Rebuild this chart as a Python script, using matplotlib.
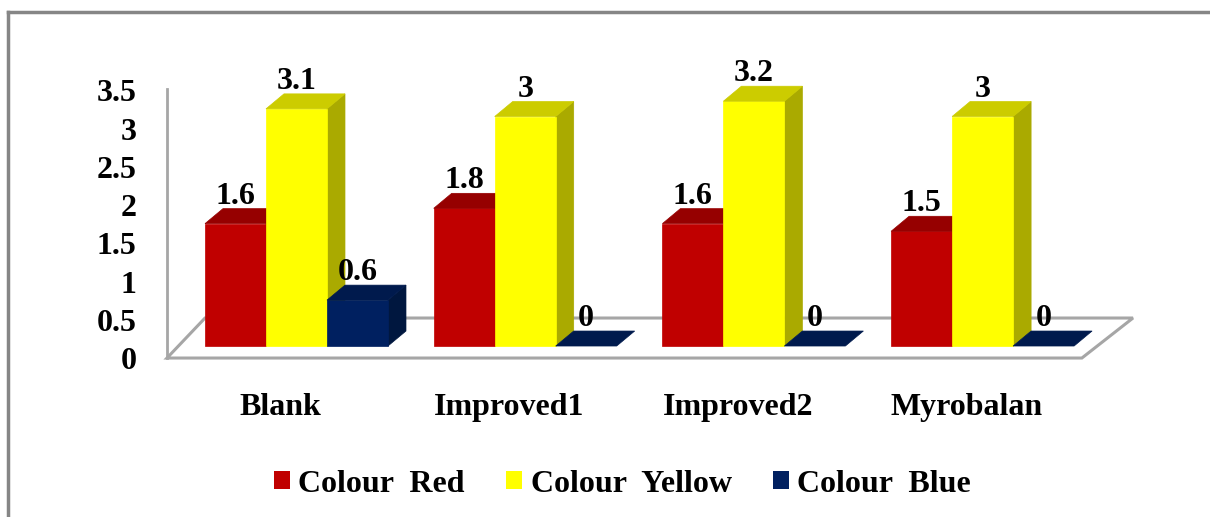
import matplotlib
matplotlib.use("Agg")
import matplotlib.pyplot as plt
from matplotlib.patches import Polygon, Patch
from matplotlib.lines import Line2D

# ---- data ----
categories = ["Blank", "Improved1", "Improved2", "Myrobalan"]
series_names = ["Colour  Red", "Colour  Yellow", "Colour  Blue"]
colour_red = [1.6, 1.8, 1.6, 1.5]
colour_yellow = [3.1, 3.0, 3.2, 3.0]
colour_blue = [0.6, 0.0, 0.0, 0.0]
yticks = [0, 0.5, 1, 1.5, 2, 2.5, 3, 3.5]

series = [colour_red, colour_yellow, colour_blue]
front_cols = ["#C00000", "#FFFF00", "#002060"]
top_cols = ["#960000", "#CCCC00", "#001A4D"]
side_cols = ["#7A0000", "#AAAA00", "#00173F"]

plt.rcParams['font.family'] = ['Liberation Serif', 'DejaVu Serif']
plt.rcParams['font.weight'] = 'bold'

W, H = 1210, 517
fig = plt.figure(figsize=(W / 100, H / 100), dpi=100)
ax = fig.add_axes([0, 0, 1, 1])
ax.set_xlim(-1.2964, 3.9943)
ax.set_ylim(-2.235, 4.523)
ax.axis('off')

# layout parameters (category units / value units)
bw = 0.2667                 # bar width
ddx, ddy = 0.0787, 0.196    # depth offset of bars
floor_front, floor_back = -0.157, 0.366
wall_left_front, wall_left_back = -0.5663, -0.400
floor_right_front, floor_right_back = 3.4341, 3.6576
gray = "#A6A6A6"
num_fs, txt_fs = 23, 23

# floor
ax.add_patch(Polygon([(wall_left_front, floor_front), (floor_right_front, floor_front),
                      (floor_right_back, floor_back), (wall_left_back, floor_back)],
                     closed=True, facecolor="white", edgecolor=gray, lw=2.2, zorder=1))
# vertical axis line
ax.plot([wall_left_front, wall_left_front], [floor_front, yticks[-1] + floor_front + 0.02],
        color=gray, lw=2, zorder=1)

# bars
for gi, cat in enumerate(categories):
    for si, vals in enumerate(series):
        v = vals[gi]
        x0 = gi - 1.5 * bw + si * bw
        x1 = x0 + bw
        if v > 0:
            ax.add_patch(Polygon([(x1, 0), (x1 + ddx, ddy), (x1 + ddx, v + ddy), (x1, v)],
                                 closed=True, facecolor=side_cols[si], edgecolor=side_cols[si],
                                 lw=0.5, zorder=3))
            ax.add_patch(Polygon([(x0, 0), (x1, 0), (x1, v), (x0, v)], closed=True,
                                 facecolor=front_cols[si], edgecolor=front_cols[si], lw=0.5, zorder=3))
        ax.add_patch(Polygon([(x0, v), (x1, v), (x1 + ddx, v + ddy), (x0 + ddx, v + ddy)],
                             closed=True, facecolor=top_cols[si], edgecolor=top_cols[si],
                             lw=0.5, zorder=3))
        ax.text((x0 + x1) / 2, v + ddy + 0.065, f"{v:g}", ha='center', va='baseline',
                fontsize=num_fs, fontweight='bold', zorder=5)
    ax.text(gi - 0.07, -0.902, cat, ha='center', va='baseline', fontsize=txt_fs,
            fontweight='bold')

# y tick labels
for t in yticks:
    ax.text(-0.70, t + floor_front - 0.144, f"{t:g}", ha='right', va='baseline',
            fontsize=num_fs, fontweight='bold')

# legend
handles = [Patch(facecolor=c, edgecolor='none') for c in front_cols]
leg = fig.legend(handles, series_names, loc='center', ncol=3, frameon=False,
                 bbox_to_anchor=(622.5 / W, 1 - 484 / H),
                 handlelength=0.5, handleheight=0.5, handletextpad=0.26,
                 columnspacing=1.3, prop={'weight': 'bold', 'size': txt_fs})

# outer chart border
fig.add_artist(Line2D([8 / W, 1], [1 - 12 / H, 1 - 12 / H], color="#868686", lw=2.5))
fig.add_artist(Line2D([8 / W, 8 / W], [0, 1 - 12 / H], color="#868686", lw=2.5))

fig.savefig("out.png", dpi=100)
